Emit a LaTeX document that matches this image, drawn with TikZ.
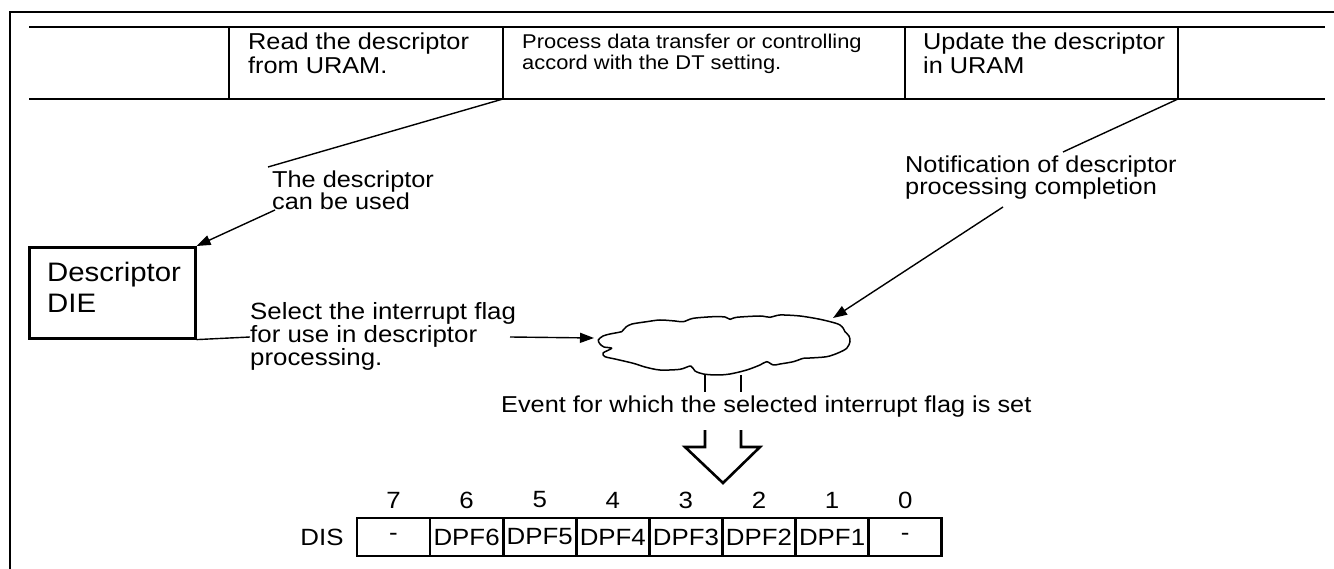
\documentclass[tikz,border=0pt]{standalone}
\usepackage{fontspec}
\setmainfont{Liberation Sans}[FakeStretch=1.1]
\usetikzlibrary{arrows.meta}
\newcommand\fsz[2]{\fontsize{#1}{#2}\selectfont}
\begin{document}
\begin{tikzpicture}[x=1pt,y=-1pt,
  frame/.style={line width=2.6pt},
  conn/.style={line width=1.4pt},
  arr/.style={conn,-{Triangle[length=14pt,width=10pt]}},
  lbl/.style={inner sep=0pt,anchor=north west,align=left,font=\fsz{23}{24}},
  small/.style={lbl,font=\fsz{19.9}{21}},
  bitcell/.style={draw,line width=2.6pt,minimum width=73pt,minimum height=38pt,inner sep=0pt,font=\fsz{23.5}{24}},
  bitnum/.style={inner sep=0pt,font=\fsz{23.5}{24}}]
\useasboundingbox (0,0) rectangle (1334,569);
% outer frame
\draw[frame] (10,569) -- (10,12) -- (1334,12);
% process table
\draw[frame] (29,27) -- (1325,27) (29,99) -- (1325,99);
\foreach \x in {229,503,905,1178} \draw[frame] (\x,27) -- (\x,99);
\coordinate (d1) at (503,99);
\coordinate (d2) at (1178,99);
\node[lbl] (read) at (248,33) {Read the descriptor\\from URAM.};
\node[small] (proc) at (522,34) {Process data transfer or controlling\\accord with the DT setting.};
\node[lbl] (upd) at (923,33) {Update the descriptor\\in URAM};
% callouts
\node[lbl,font=\fsz{23}{22}] (used) at (272,171) {The descriptor\\can be used};
\node[lbl,font=\fsz{23}{22}] (notif) at (905,156) {Notification of descriptor\\processing completion};
\node[draw,frame,minimum width=166pt,minimum height=91pt,anchor=north west] (box) at (28,246) {};
\node[lbl,font=\fsz{26.7}{31}] (boxt) at (47,262) {Descriptor\\DIE};
\node[lbl,font=\fsz{23.5}{21.5}] (sel) at (250,302) {Select the interrupt flag\\for use in descriptor\\processing.};
% cloud
\draw[line width=1.5pt,line join=round] plot[smooth cycle,tension=0.5] coordinates {
 (598.3,340) (603,336) (610,334) (618,332.5) (621.7,331.7) (626,327) (632,324)
 (646.7,321.7) (660,320) (675,321) (683.3,321.7) (693.3,318.3) (713.3,316.7)
 (725,317) (730,319.3) (736.7,317.3) (760,316) (770,317.3) (780,315) (800,316)
 (820,319.3) (835,323) (840,325) (843.3,328.3) (845,331.7) (849,336) (850,341.7)
 (846.7,348.3) (838,353) (826.7,356.7) (810,358) (803.3,358.3) (793.3,361.7)
 (780,364) (773.3,365) (766.7,361.7) (760,365) (746.7,370) (730,374) (716.7,375)
 (703.3,374) (695,371) (690.7,366) (680,369.3) (660,370) (645,367) (633.3,363.3)
 (615,359) (605,356.7) (603,353) (611.7,348.3) (604,347) (600,344)};
\coordinate (cloudL) at (594,338);
\coordinate (cloudR) at (833,318);
\coordinate (u1) at (268,167);
\coordinate (u2) at (275,210);
\coordinate (n1) at (1063,152);
\coordinate (n2) at (1003,207);
\coordinate (s0) at (250,337);
\coordinate (s1) at (510,337);
\draw[conn] (d1) -- (u1);
\draw[arr] (u2) -- (box.north east);
\draw[conn] (d2) -- (n1);
\draw[arr] (n2) -- (cloudR);
\draw[conn] (box.south east) -- (s0);
\draw[arr] (s1) -- (cloudL);
% stubs under cloud
\draw[frame] (705,375) -- (705,392) (741,375) -- (741,392);
\node[inner sep=0pt,font=\fsz{23}{22},anchor=north west] (event) at (501,396) {Event for which the selected interrupt flag is set};
% hollow arrow
\draw[frame,line join=miter] (705,430) -- (705,447) -- (685,447) -- (723,483) -- (760,447) -- (741,447) -- (741,430);
% register
\node[bitnum] (dis) at (322,537) {DIS};
\foreach \i/\t [count=\k from 0] in {7/-,6/DPF6,5/DPF5,4/DPF4,3/DPF3,2/DPF2,1/DPF1,0/-}{
  \node[bitcell] (b\i) at ({393.5+73.1*\k},537) {\t};
  \node[bitnum] (n\i) at ({393.5+73.1*\k},500) {\i};
}
\end{tikzpicture}
\end{document}
